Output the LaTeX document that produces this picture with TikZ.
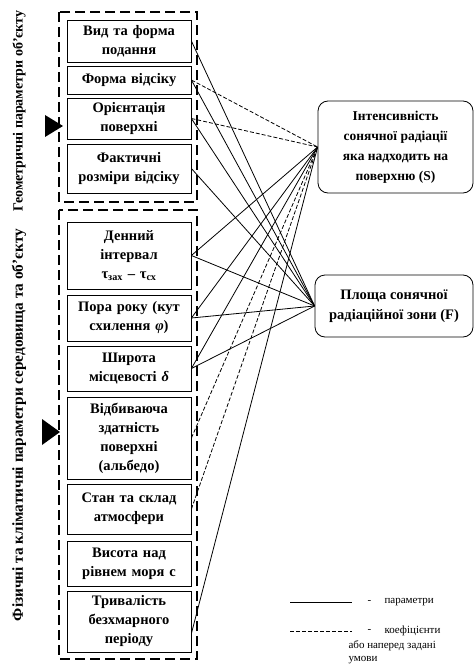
\documentclass[tikz,border=0pt]{standalone}
\usepackage{fontspec}
\setmainfont{Liberation Serif}
\begin{document}
\begin{tikzpicture}[x=1pt,y=-1pt,
  pbox/.style={draw, line width=0.8pt, minimum width=124pt, text width=120pt, inner xsep=2pt, inner ysep=0pt, align=center, font=\fontsize{14.5}{19}\selectfont\bfseries},
  rbox/.style={draw, line width=0.8pt, rounded corners=10pt, align=center, inner sep=0pt, font=\fontsize{13.5}{20}\selectfont\bfseries},
  grp/.style={draw, line width=2.2pt, dash pattern=on 10pt off 5pt},
  par/.style={line width=0.8pt},
  coef/.style={line width=0.8pt, dash pattern=on 4pt off 2pt},
  vlab/.style={rotate=90, font=\bfseries},
  leg/.style={anchor=west, font=\fontsize{11}{13}\selectfont}
]
\useasboundingbox (0,0) rectangle (474,668);
% group frames
\draw[grp] (59,12) rectangle (197,202);
\draw[grp] (59,210) rectangle (197,659);
% arrows
\fill (45,115) -- (63,126) -- (45,137) -- cycle;
\fill (42,419) -- (60,432) -- (42,445) -- cycle;
% vertical labels
\node[vlab, font=\fontsize{14}{16}\selectfont\bfseries] (g1) at (19,111) {Геометричні параметри об’єкту};
\node[vlab, font=\fontsize{15.3}{17}\selectfont\bfseries] (g2) at (19,425) {Фізичні та кліматичні параметри середовища та об’єкту};
% left boxes
\node[pbox, minimum height=42pt] (b1) at (129,41) {Вид та форма\\подання};
\node[pbox, minimum height=28pt] (b2) at (129,80) {Форма відсіку};
\node[pbox, minimum height=41pt] (b3) at (129,118.5) {Орієнтація\\поверхні};
\node[pbox, minimum height=49pt] (b4) at (129,168.5) {Фактичні\\розміри відсіку};
\node[pbox, minimum height=67pt] (b5) at (129,255.5) {Денний\\інтервал\\τ\textsubscript{зах} – τ\textsubscript{сх}};
\node[pbox, minimum height=46pt] (b6) at (129,318) {Пора року (кут\\схилення \textit{φ})};
\node[pbox, minimum height=45pt] (b7) at (129,368.5) {Широта\\місцевості \textit{δ}};
\node[pbox, minimum height=82pt] (b8) at (129,438) {Відбиваюча\\здатність\\поверхні\\(альбедо)};
\node[pbox, minimum height=50pt] (b9) at (129,509) {Стан та склад\\атмосфери};
\node[pbox, minimum height=45pt] (b10) at (129,563.5) {Висота над\\рівнем моря с};
\node[pbox, minimum height=61pt] (b11) at (129,621.5) {Тривалість\\безхмарного\\періоду};
% right boxes
\node[rbox, minimum width=155pt, minimum height=92pt] (S) at (395.5,147) {Інтенсивність\\сонячної радіації\\яка надходить на\\поверхню (S)};
\node[rbox, minimum width=158pt, minimum height=62pt, font=\fontsize{14.5}{20}\selectfont\bfseries] (F) at (394,306) {Площа сонячної\\радіаційної зони (F)};
% connectors
\draw[par] (b1.east) -- (F.west);
\draw[coef] (b2.east) -- (S.west);
\draw[par] (b2.east) -- (F.west);
\draw[coef] (b3.east) -- (S.west);
\draw[par] (b3.east) -- (F.west);
\draw[par] (b4.east) -- (F.west);
\draw[par] (b5.east) -- (S.west);
\draw[par] (b5.east) -- (F.west);
\draw[par] (b6.east) -- (S.west);
\draw[par] (b6.east) -- (F.west);
\draw[par] (b7.east) -- (S.west);
\draw[par] (b7.east) -- (F.west);
\draw[coef] (b8.east) -- (S.west);
\draw[coef] (b9.east) -- (S.west);
\draw[par] ([yshift=-12pt]b11.east) -- (S.west);
% legend
\coordinate (l1a) at (290,602);
\coordinate (l1b) at (352,602);
\coordinate (l2a) at (290,631);
\coordinate (l2b) at (352,631);
\draw[par] (l1a) -- (l1b);
\draw[coef] (l2a) -- (l2b);
\node[leg] (d1) at (364,602) {-};
\node[leg] (t1) at (381,602) {параметри};
\node[leg] (d2) at (364,631) {-};
\node[leg] (t2) at (381,631) {коефіцієнти};
\node[leg] (t3) at (345,646) {або наперед задані};
\node[leg] (t4) at (345,660) {умови};
\end{tikzpicture}
\end{document}
